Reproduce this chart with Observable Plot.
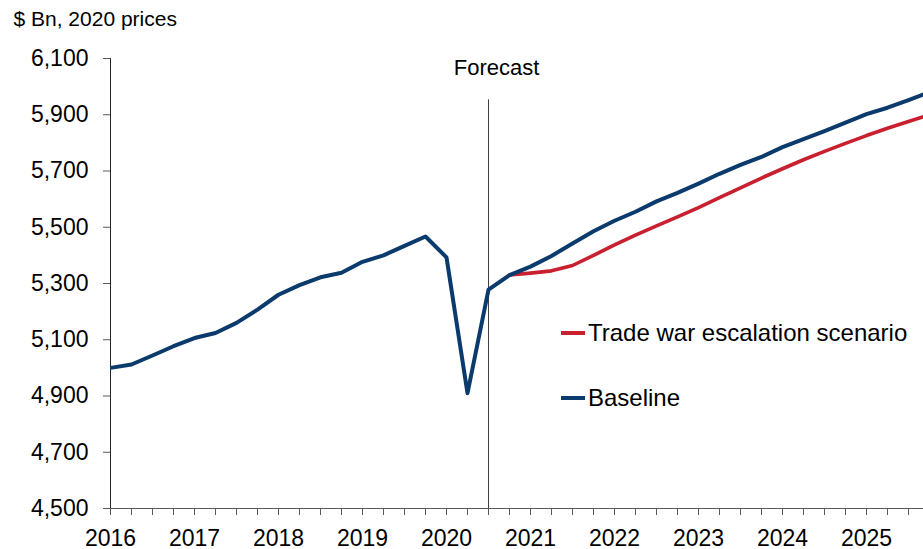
<!DOCTYPE html>
<html>
<head>
<meta charset="utf-8">
<script src="https://cdn.jsdelivr.net/npm/d3@7"></script>
<script src="https://cdn.jsdelivr.net/npm/@observablehq/plot@0.6"></script>
<style>
  html, body { margin: 0; padding: 0; background: #fff; }
  #wrap { position: relative; width: 923px; height: 549px; font-family: Arial, "Liberation Sans", sans-serif; }
  #legend { position: absolute; left: 561px; top: 316px; font-size: 24px; color: #000; }
  #legend .row { display: flex; align-items: center; height: 34px; white-space: nowrap; }
  #legend .row + .row { margin-top: 31px; }
  #legend .sw { width: 24px; height: 4px; margin-right: 3px; }
</style>
</head>
<body>
<div id="wrap"></div>
<script>
// ---- data ----
const quarters = [
  "2016 Q1","2016 Q2","2016 Q3","2016 Q4",
  "2017 Q1","2017 Q2","2017 Q3","2017 Q4",
  "2018 Q1","2018 Q2","2018 Q3","2018 Q4",
  "2019 Q1","2019 Q2","2019 Q3","2019 Q4",
  "2020 Q1","2020 Q2","2020 Q3","2020 Q4",
  "2021 Q1","2021 Q2","2021 Q3","2021 Q4",
  "2022 Q1","2022 Q2","2022 Q3","2022 Q4",
  "2023 Q1","2023 Q2","2023 Q3","2023 Q4",
  "2024 Q1","2024 Q2","2024 Q3","2024 Q4",
  "2025 Q1","2025 Q2","2025 Q3","2025 Q4"
];
const baseline = [
  5000, 5012, 5044, 5077,
  5106, 5124, 5160, 5207,
  5260, 5294, 5322, 5338,
  5377, 5400, 5434, 5467,
  5393, 4910, 5278, 5330,
  5360, 5398, 5442, 5486,
  5523, 5555, 5592, 5622,
  5655, 5690, 5722, 5750,
  5785, 5813, 5842, 5872,
  5902, 5925, 5952, 5980
];
const tradeWar = [
  null, null, null, null,
  null, null, null, null,
  null, null, null, null,
  null, null, null, null,
  null, null, null, 5330,
  5337, 5345, 5364, 5400,
  5437, 5472, 5505, 5537,
  5570, 5605, 5640, 5675,
  5708, 5740, 5770, 5798,
  5826, 5852, 5876, 5900
];
const seriesNames = ["Trade war escalation scenario", "Baseline"];
const seriesColors = ["#c8202e", "#0b3a6d"];
const yTicks = [4500, 4700, 4900, 5100, 5300, 5500, 5700, 5900, 6100];
const unitLabel = "$ Bn, 2020 prices";
const forecastLabel = "Forecast";
const forecastStart = "2020 Q3";
const forecastTop = 5978;

// ---- build ----
const qNum = s => { const [y, q] = s.split(" Q"); return +y + (+q - 1) / 4; };
const xDomain = [2016, 2016 + 813 / 84];
const data = quarters.map((q, i) => ({ t: qNum(q), baseline: baseline[i], tradeWar: tradeWar[i] }));
const quarterTicks = quarters.map(qNum).filter(t => t <= xDomain[1]);
const fx = qNum(forecastStart);

const chart = Plot.plot({
  width: 923,
  height: 549,
  marginLeft: 110,
  marginRight: 0,
  marginTop: 58,
  marginBottom: 41,
  style: { fontFamily: 'Arial, "Liberation Sans", sans-serif', fontSize: "23px", color: "#000", background: "#fff", overflow: "visible" },
  x: { domain: xDomain },
  y: { domain: [4500, 6100] },
  marks: [
    Plot.axisY({ ticks: yTicks, tickFormat: d3.format(","), tickSize: 7, tickPadding: 15, label: null, stroke: "#595959", fill: "#000", fontSize: 23 }),
    Plot.axisX({ ticks: quarterTicks, tickFormat: d => Number.isInteger(d) ? String(d) : "", tickSize: 7, tickPadding: 14, label: null, stroke: "#595959", fill: "#000", fontSize: 23 }),
    Plot.ruleX([{ x: fx }], { x: "x", y1: 4500, y2: forecastTop, stroke: "#404040", strokeWidth: 1, insetBottom: -7 }),
    Plot.ruleY([4500], { stroke: "#595959", strokeWidth: 1 }),
    Plot.ruleX([xDomain[0]], { stroke: "#262626", strokeWidth: 1 }),
    Plot.line(data, { x: "t", y: "tradeWar", stroke: seriesColors[0], strokeWidth: 3.6, clip: true, strokeLinejoin: "round" }),
    Plot.line(data, { x: "t", y: "baseline", stroke: seriesColors[1], strokeWidth: 4, clip: true, strokeLinejoin: "round" }),
    Plot.text([{ x: fx, label: forecastLabel }], { x: "x", text: "label", frameAnchor: "top", lineAnchor: "top", dy: 1, dx: 8, fontSize: 22, fill: "#000" }),
    Plot.text([unitLabel], { frameAnchor: "top-left", textAnchor: "start", lineAnchor: "middle", dx: -97, dy: -39, fontSize: 21, fill: "#000" })
  ]
});

const wrap = document.getElementById("wrap");
wrap.appendChild(chart);

const legend = document.createElement("div");
legend.id = "legend";
seriesNames.forEach((name, i) => {
  const row = document.createElement("div");
  row.className = "row";
  const sw = document.createElement("span");
  sw.className = "sw";
  sw.style.background = seriesColors[i];
  const tx = document.createElement("span");
  tx.textContent = name;
  row.appendChild(sw);
  row.appendChild(tx);
  legend.appendChild(row);
});
wrap.appendChild(legend);
</script>
</body>
</html>
